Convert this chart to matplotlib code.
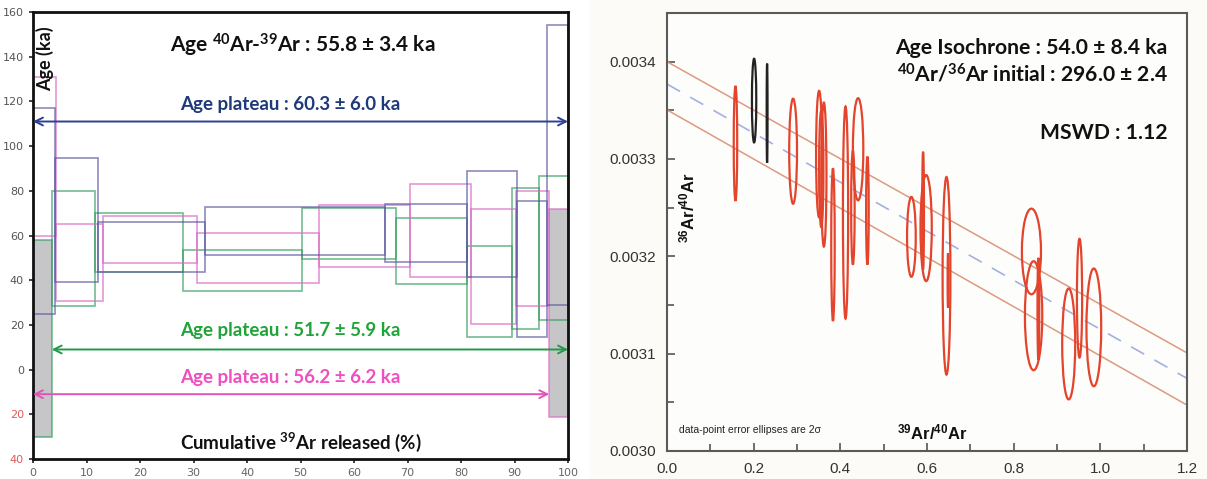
import numpy as np
import matplotlib
matplotlib.use("Agg")
import matplotlib.pyplot as plt
from matplotlib.patches import Ellipse, Rectangle
from matplotlib.ticker import FuncFormatter, MultipleLocator

plt.rcParams["mathtext.default"] = "regular"

# --- Spectre d'âge : trois échantillons (bornes cumulées, haut / bas des paliers) ---
blue_edges = [0, 4.2, 12.2, 32.1, 65.8, 81.2, 90.4, 96.0, 100]
blue_hi = [117, 94.8, 66, 72.9, 74, 89, 75.3, 154]
blue_lo = [25, 39.3, 43.8, 51.3, 48.3, 41.3, 14.7, 29]

green_edges = [0, 3.5, 11.65, 28.1, 50.2, 67.8, 81.2, 89.5, 94.6, 100]
green_hi = [58, 79.9, 69.9, 53.5, 72.4, 68, 55.4, 81.4, 86.6]
green_lo = [-30, 28.5, 43.5, 35.3, 49.5, 38.3, 14.7, 18, 22.2]

pink_edges = [0, 4.3, 13.0, 30.7, 53.5, 70.5, 81.8, 90.3, 96.5, 100]
pink_hi = [131, 65, 68.7, 61.3, 73.6, 82.9, 71.7, 80, 72]
pink_lo = [60, 30.8, 47.7, 38.6, 46, 41.6, 20.4, 28.6, -21]

# plateaux : (début, fin, niveau de la flèche)
plateau_blue = (0, 100, 111)
plateau_green = (3.5, 100, 9)
plateau_pink = (0, 96.5, -11)

# --- Isochrone : ellipses (x, y, largeur, hauteur) ---
iso_x = [0.158, 0.201, 0.231, 0.291, 0.351, 0.356, 0.362, 0.383, 0.412, 0.429, 0.441,
         0.4625, 0.564, 0.591, 0.598, 0.645, 0.6486, 0.841, 0.846, 0.857, 0.927, 0.952, 0.985]
iso_y = [0.003316, 0.003360, 0.003347, 0.003308, 0.003305, 0.003290, 0.003284, 0.003212,
         0.003245, 0.003250, 0.003310, 0.003247, 0.003220, 0.003247, 0.003229, 0.003180,
         0.003175, 0.003205, 0.003139, 0.003146, 0.003110, 0.003157, 0.003127]
iso_w = [0.008, 0.010, 0.002, 0.018, 0.014, 0.010, 0.012, 0.008, 0.012, 0.008, 0.024,
         0.006, 0.020, 0.004, 0.026, 0.018, 0.002, 0.044, 0.040, 0.004, 0.030, 0.012, 0.034]
iso_h = [0.000118, 0.000086, 0.000102, 0.000108, 0.000130, 0.000120, 0.000148, 0.000157,
         0.000218, 0.000117, 0.000105, 0.000111, 0.000082, 0.000121, 0.000109, 0.000203,
         0.000056, 0.000088, 0.000112, 0.000105, 0.000114, 0.000122, 0.000121]
iso_black = [1, 2]

line_x = [0.0, 1.2]
line_mid = [0.003377, 0.0030746]
line_up = [0.003400, 0.0031008]
line_dn = [0.0033505, 0.0030472]

fig = plt.figure(figsize=(12.07, 4.79), dpi=100)
fig.patches.append(Rectangle((590 / 1207, 0), 617 / 1207, 1, transform=fig.transFigure,
                             color="#fcfbf8", zorder=-10))

# ===================== Panneau gauche =====================
ax1 = fig.add_axes([33 / 1207, 20 / 479, 535 / 1207, 447 / 479])
ax1.set_xlim(0, 100)
ax1.set_ylim(-40, 160)

ax1.bar(green_edges[0], green_hi[0] - green_lo[0], bottom=green_lo[0],
        width=green_edges[1] - green_edges[0], align="edge", color="#c6c6c8", zorder=1)
ax1.bar(pink_edges[-2], pink_hi[-1] - pink_lo[-1], bottom=pink_lo[-1],
        width=pink_edges[-1] - pink_edges[-2], align="edge", color="#c6c6c8", zorder=1)


def draw_steps(edges, hi, lo, color):
    e = np.array(edges, dtype=float)
    hi = np.array(hi, dtype=float)
    lo = np.array(lo, dtype=float)
    ax1.bar(e[:-1], hi - lo, bottom=lo, width=np.diff(e), align="edge", fill=False,
            edgecolor=color, lw=1.2, alpha=0.7, zorder=2)


draw_steps(green_edges, green_hi, green_lo, "#3a9e62")
draw_steps(pink_edges, pink_hi, pink_lo, "#d86cc4")
draw_steps(blue_edges, blue_hi, blue_lo, "#5a5aa0")

for (x0, x1, y), c in [(plateau_blue, "#2e3f94"), (plateau_green, "#1f9a48"),
                        (plateau_pink, "#e055b8")]:
    ax1.annotate("", xy=(x1, y), xytext=(x0, y),
                 arrowprops=dict(arrowstyle="<->", color=c, lw=1.4,
                                 shrinkA=0, shrinkB=0, mutation_scale=14), zorder=3)

lato = ["Lato", "DejaVu Sans"]
ax1.text(50.5, 145, "Age $^{40}$Ar-$^{39}$Ar : 55.8 ± 3.4 ka", ha="center", va="center",
         fontsize=15, fontweight="bold", family=lato, color="#111111")
ax1.text(48, 118.5, "Age plateau : 60.3 ± 6.0 ka", ha="center", va="center",
         fontsize=13.5, fontweight="bold", family=lato, color="#1f3a7a")
ax1.text(48, 17.5, "Age plateau : 51.7 ± 5.9 ka", ha="center", va="center",
         fontsize=13.5, fontweight="bold", family=lato, color="#22a33a")
ax1.text(48, -3.5, "Age plateau : 56.2 ± 6.2 ka", ha="center", va="center",
         fontsize=13.5, fontweight="bold", family=lato, color="#f04fc0")
ax1.text(50, -32.5, "Cumulative $^{39}$Ar released (%)", ha="center", va="center",
         fontsize=13.5, fontweight="bold", family=lato, color="#111111")
ax1.text(2.3, 139, "Age (ka)", ha="center", va="center", rotation=90,
         fontsize=13, fontweight="bold", family=lato, color="#111111")

ax1.set_xticks(range(0, 101, 10))
ax1.set_yticks(range(-40, 161, 20))
ax1.yaxis.set_major_formatter(FuncFormatter(lambda v, p: f"{abs(int(round(v)))}"))
ax1.tick_params(axis="both", direction="out", length=3, width=1.2, labelsize=8,
                labelcolor="#555555", colors="#222222")
ax1.tick_params(axis="x", labelcolor="#666666")
for lab, v in zip(ax1.get_yticklabels(), ax1.get_yticks()):
    lab.set_color("#e05a5a" if v < 0 else "#555555")
for s in ax1.spines.values():
    s.set_linewidth(2)
    s.set_color("#111111")

# ===================== Panneau droit =====================
ax2 = fig.add_axes([667 / 1207, 28 / 479, 520 / 1207, 438 / 479])
ax2.set_facecolor("#fdfdfb")
ax2.set_xlim(0, 1.2)
ax2.set_ylim(0.0030, 0.00345)

ax2.plot(line_x, line_up, color="#dc9a80", lw=1.1, zorder=2)
ax2.plot(line_x, line_dn, color="#dc9a80", lw=1.1, zorder=2)
ax2.plot(line_x, line_mid, color="#a3b0e2", lw=1.2, dashes=(9, 7), zorder=2)

for i, (x, y, w, h) in enumerate(zip(iso_x, iso_y, iso_w, iso_h)):
    col = "#222222" if i in iso_black else "#e4432c"
    ax2.add_patch(Ellipse((x, y), w, h, fill=False, ec=col, lw=1.6, zorder=3))

ax2.xaxis.set_major_locator(MultipleLocator(0.2))
ax2.xaxis.set_minor_locator(MultipleLocator(0.1))
ax2.yaxis.set_major_locator(MultipleLocator(0.0001))
ax2.yaxis.set_minor_locator(MultipleLocator(0.00005))
ax2.xaxis.set_major_formatter(FuncFormatter(lambda v, p: f"{v:.1f}"))
ax2.yaxis.set_major_formatter(FuncFormatter(lambda v, p: f"{v:.4f}"))
ax2.tick_params(which="both", direction="in", width=1.2, colors="#555555",
                labelcolor="#333333", labelsize=11)
ax2.tick_params(which="major", length=6, pad=8)
ax2.tick_params(which="minor", length=5)
for lab in ax2.get_xticklabels() + ax2.get_yticklabels():
    lab.set_family(["Liberation Sans", "DejaVu Sans"])
for s in ax2.spines.values():
    s.set_linewidth(1.5)
    s.set_color("#5a5a5a")

ax2.text(1.155, 0.003414, "Age Isochrone : 54.0 ± 8.4 ka", ha="right", va="center",
         fontsize=15.2, fontweight="bold", family=lato, color="#111111")
ax2.text(1.155, 0.003387, "$^{40}$Ar/$^{36}$Ar initial : 296.0 ± 2.4", ha="right", va="center",
         fontsize=15.2, fontweight="bold", family=lato, color="#111111")
ax2.text(1.155, 0.003327, "MSWD : 1.12", ha="right", va="center",
         fontsize=15.2, fontweight="bold", family=lato, color="#111111")
arial = ["Liberation Sans", "DejaVu Sans"]
ax2.text(0.048, 0.003250, "$^{36}$Ar/$^{40}$Ar", rotation=90, ha="center", va="center",
         fontsize=12, fontweight="bold", family=arial, color="#111111")
ax2.text(0.53, 0.003019, "$^{39}$Ar/$^{40}$Ar", ha="left", va="center",
         fontsize=12, fontweight="bold", family=arial, color="#111111")
ax2.text(0.027, 0.003022, "data-point error ellipses are 2σ", ha="left", va="center",
         fontsize=7.5, family=arial, color="#222222")

fig.savefig("out.png", dpi=100)
